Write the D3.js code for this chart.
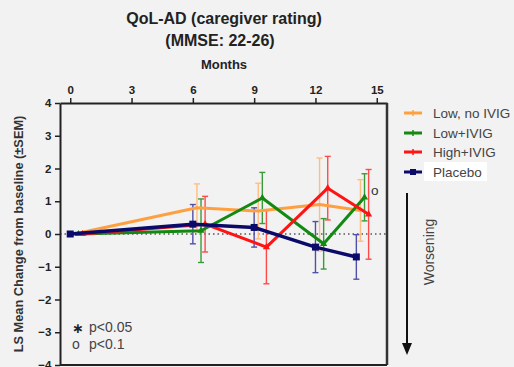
<!DOCTYPE html>
<html><head><meta charset="utf-8">
<script src="https://cdn.jsdelivr.net/npm/d3@7"></script>
<style>
html,body{margin:0;padding:0;background:#f2f2f2;}
svg{display:block;font-family:"Liberation Sans",Arial,sans-serif;}
</style></head>
<body>
<svg id="c" width="514" height="367"></svg>
<script>
const months = [0, 6, 9, 12, 14];
const xTicks = [0, 3, 6, 9, 12, 15];
const yTicks = [4, 3, 2, 1, 0, -1, -2, -3, -4];
const seriesNames = ["Low, no IVIG", "Low+IVIG", "High+IVIG", "Placebo"];
const lowNoIVIG = [0, 0.8, 0.7, 0.9, 0.72];
const lowNoIVIGsem = [0, 0.73, 0.85, 1.42, 0.94];
const lowIVIG = [0, 0.1, 1.1, -0.3, 1.12];
const lowIVIGsem = [0, 0.97, 0.78, 0.77, 0.72];
const highIVIG = [0, 0.3, -0.4, 1.4, 0.6];
const highIVIGsem = [0, 0.85, 1.12, 0.97, 1.37];
const placebo = [0, 0.3, 0.2, -0.4, -0.7];
const placeboSem = [0, 0.6, 0.6, 0.78, 0.68];
const offsets = [0.2, 0.4, 0.6, 0];

const series = [
  {name: seriesNames[0], mean: lowNoIVIG, sem: lowNoIVIGsem, off: offsets[0], color: "#ffa040", bar: "#ffbd80", marker: "none", lw: 3},
  {name: seriesNames[1], mean: lowIVIG, sem: lowIVIGsem, off: offsets[1], color: "#128a12", bar: "#3a9a3a", marker: "tri", lw: 3},
  {name: seriesNames[2], mean: highIVIG, sem: highIVIGsem, off: offsets[2], color: "#ff1414", bar: "#ff4a4a", marker: "tri", lw: 3},
  {name: seriesNames[3], mean: placebo, sem: placeboSem, off: offsets[3], color: "#0a0a6a", bar: "#5050a8", marker: "sq", lw: 3.5}
];

const svg = d3.select("#c");
const x = d3.scaleLinear().domain([-0.5, 15.5]).range([60, 387]);
const y = d3.scaleLinear().domain([-4, 4]).range([365, 103]);

// titles
svg.append("text").attr("x", 224).attr("y", 24).attr("text-anchor", "middle")
  .attr("font-size", 16).attr("font-weight", "bold").attr("fill", "#222").text("QoL-AD (caregiver rating)");
svg.append("text").attr("x", 220).attr("y", 46).attr("text-anchor", "middle")
  .attr("font-size", 16).attr("font-weight", "bold").attr("fill", "#222").text("(MMSE: 22-26)");
svg.append("text").attr("x", 224).attr("y", 69).attr("text-anchor", "middle")
  .attr("font-size", 13).attr("font-weight", "bold").attr("fill", "#222").text("Months");

// zero dotted line
svg.append("line").attr("x1", x(-0.5)).attr("x2", x(15.5)).attr("y1", y(0)).attr("y2", y(0))
  .attr("stroke", "#555").attr("stroke-width", 1.5).attr("stroke-dasharray", "1.5,3");

// axes
const topAxis = d3.axisTop(x).tickValues(xTicks).tickSize(5).tickSizeOuter(0);
const gTop = svg.append("g").attr("transform", `translate(0,${y(4)})`).call(topAxis);
const leftAxis = d3.axisLeft(y).tickValues(yTicks).tickSize(5).tickSizeOuter(0);
const gLeft = svg.append("g").attr("transform", `translate(${x(-0.5)},0)`).call(leftAxis);
[gTop, gLeft].forEach(g => {
  g.select(".domain").attr("stroke", "#222").attr("stroke-width", 2);
  g.selectAll(".tick line").attr("stroke", "#222").attr("stroke-width", 1.5);
  g.selectAll(".tick text").attr("fill", "#222").attr("font-size", 11.5).attr("font-weight", "bold")
    .attr("font-family", "Liberation Sans, Arial, sans-serif");
});
gTop.selectAll(".tick text").attr("dy", "-0.1em");
gLeft.selectAll(".tick text").attr("dx", "-0.05em");
// right border
svg.append("line").attr("x1", x(15.5)).attr("x2", x(15.5)).attr("y1", y(4)).attr("y2", y(-4))
  .attr("stroke", "#333").attr("stroke-width", 2.5);
svg.append("line").attr("x1", x(-0.5)).attr("x2", x(15.5)).attr("y1", y(-4)).attr("y2", y(-4))
  .attr("stroke", "#222").attr("stroke-width", 2);

// y label
svg.append("text").attr("transform", `translate(23,${y(0)}) rotate(-90)`).attr("text-anchor", "middle")
  .attr("font-size", 12.8).attr("font-weight", "bold").attr("fill", "#333")
  .text("LS Mean Change from baseline (\u00B1SEM)");

// error bars
series.forEach(s => {
  const g = svg.append("g");
  months.forEach((m, i) => {
    if (s.sem[i] === 0) return;
    const cx = x(m + s.off);
    const t = y(s.mean[i] + s.sem[i]), b = y(s.mean[i] - s.sem[i]);
    g.append("line").attr("x1", cx).attr("x2", cx).attr("y1", t).attr("y2", b)
      .attr("stroke", s.bar).attr("stroke-width", 1.4);
    [t, b].forEach(yy => g.append("line").attr("x1", cx - 3).attr("x2", cx + 3).attr("y1", yy).attr("y2", yy)
      .attr("stroke", s.bar).attr("stroke-width", 1.4));
  });
});

// lines
const line = d3.line();
series.forEach(s => {
  const pts = months.map((m, i) => [x(m + s.off), y(s.mean[i])]);
  svg.append("path").attr("d", line(pts)).attr("fill", "none").attr("stroke", s.color)
    .attr("stroke-width", s.lw).attr("stroke-linejoin", "round");
  pts.forEach(p => {
    if (s.marker === "sq") {
      svg.append("rect").attr("x", p[0] - 3.5).attr("y", p[1] - 3.5).attr("width", 7).attr("height", 7).attr("fill", s.color);
    } else if (s.marker === "tri") {
      svg.append("path").attr("d", d3.symbol(d3.symbolTriangle, 22)()).attr("transform", `translate(${p[0]},${p[1]})`).attr("fill", s.color);
    }
  });
});

// significance mark
svg.append("text").attr("x", 371).attr("y", 195).attr("font-size", 13.5).attr("fill", "#333").text("o");

// p-value legend
svg.append("text").attr("x", 72).attr("y", 333).attr("font-size", 14).attr("font-weight", "bold")
  .attr("font-family", "DejaVu Sans, sans-serif").attr("fill", "#222").text("\u2217");
svg.append("text").attr("x", 89).attr("y", 332).attr("font-size", 14).attr("fill", "#444").text("p<0.05");
svg.append("text").attr("x", 72).attr("y", 349).attr("font-size", 14).attr("fill", "#444").text("o");
svg.append("text").attr("x", 89).attr("y", 349).attr("font-size", 14).attr("fill", "#444").text("p<0.1");

// legend
const legY = [113, 133, 152, 172];
svg.append("rect").attr("x", 424).attr("y", 162).attr("width", 63).attr("height", 19).attr("fill", "#fff");
series.forEach((s, i) => {
  const yy = legY[i];
  svg.append("line").attr("x1", 404).attr("x2", 422).attr("y1", yy).attr("y2", yy)
    .attr("stroke", s.color).attr("stroke-width", 3);
  if (s.marker === "sq") {
    svg.append("rect").attr("x", 413 - 3).attr("y", yy - 3).attr("width", 6).attr("height", 6).attr("fill", s.color);
  } else {
    svg.append("line").attr("x1", 413).attr("x2", 413).attr("y1", yy - 3).attr("y2", yy + 3).attr("stroke", s.color).attr("stroke-width", 1.5);
  }
  svg.append("text").attr("x", 433).attr("y", yy + 5).attr("font-size", 13.5).attr("fill", "#444").text(s.name);
});

// worsening arrow
svg.append("line").attr("x1", 407).attr("x2", 407).attr("y1", 193).attr("y2", 346)
  .attr("stroke", "#111").attr("stroke-width", 2);
svg.append("path").attr("d", "M402,343 L412,343 L407,355 Z").attr("fill", "#111");
svg.append("text").attr("transform", "translate(434,252) rotate(-90)").attr("text-anchor", "middle")
  .attr("font-size", 14).attr("fill", "#444").text("Worsening");
</script>
</body></html>
